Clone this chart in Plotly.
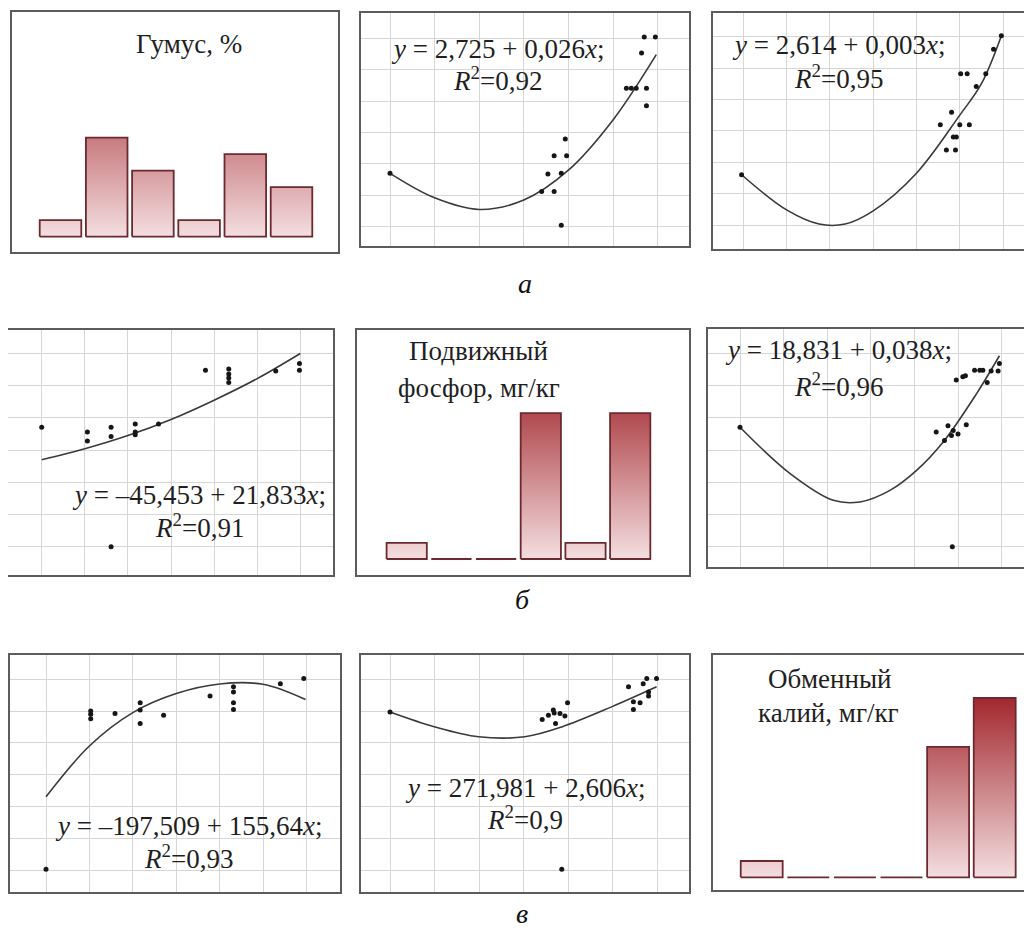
import plotly.graph_objects as go

# Window is 1032x933; the page body adds an 8 px margin, so the figure is 8 px smaller
# and every reference pixel position is shifted by that margin.
WIN_W, WIN_H = 1032, 933
OFF = 8
W, H = WIN_W - OFF, WIN_H - OFF

# ---------------- DATA ----------------
# Histogram counts (bar panels)
humus_counts = [1, 6, 4, 1, 5, 3]
phos_counts = [1, 0, 0, 9, 1, 9]
kali_counts = [1, 0, 0, 0, 8, 11]

# Scatter panels (grid units)
p2_x = [0, 3.40, 3.68, 3.54, 3.84, 3.68, 3.96, 3.93, 3.84, 5.30, 5.41, 5.52, 5.75, 5.75, 5.64, 5.70, 5.95]
p2_y = [1.70, 1.12, 1.12, 1.68, 1.70, 2.26, 2.26, 2.79, 0.05, 4.41, 4.41, 4.41, 4.41, 3.85, 5.53, 6.04, 6.04]
p2_fx = [0, 1, 2, 3, 4, 5, 5.97]
p2_fy = [1.70, 0.92, 0.55, 0.85, 1.80, 3.40, 5.48]

p3_x = [-0.04, 5.96, 5.78, 5.60, 5.38, 5.02, 5.17, 4.81, 4.55, 5.00, 5.22, 4.85, 4.92, 4.69, 4.90]
p3_y = [1.60, 6.03, 5.60, 4.82, 4.41, 4.82, 4.82, 3.59, 3.19, 3.19, 3.19, 2.80, 2.80, 2.39, 2.39]
p3_fx = [-0.04, 1.0, 1.75, 2.35, 3.0, 4.0, 5.0, 5.5, 5.96]
p3_fy = [1.60, 0.48, 0.03, 0.03, 0.45, 1.65, 3.50, 4.50, 6.03]

p4_x = [0, 1.06, 1.06, 1.61, 1.61, 2.17, 2.17, 2.17, 2.71, 3.80, 4.34, 4.34, 4.34, 4.34, 5.43, 5.98, 5.98, 1.61]
p4_y = [3.71, 3.56, 3.28, 3.71, 3.42, 3.81, 3.56, 3.48, 3.81, 5.48, 5.52, 5.36, 5.24, 5.10, 5.46, 5.69, 5.48, 0.0]
p4_fx = [0, 1, 2, 3, 4, 5, 6]
p4_fy = [2.70, 3.04, 3.45, 3.95, 4.55, 5.22, 6.00]

p6_x = [0, 4.50, 4.77, 4.89, 4.69, 5.00, 5.19, 4.85, 4.96, 5.11, 5.17, 5.38, 5.50, 5.57, 5.67, 5.76, 5.92, 5.95, 4.87]
p6_y = [3.71, 3.56, 3.76, 3.61, 3.30, 3.50, 3.79, 3.45, 5.18, 5.28, 5.31, 5.48, 5.48, 5.48, 5.10, 5.46, 5.46, 5.69, 0.0]
p6_fx = [0, 1.15, 2.14, 2.75, 3.44, 4.05, 4.66, 5.42, 5.95]
p6_fy = [3.71, 2.27, 1.44, 1.39, 1.75, 2.37, 3.25, 4.74, 5.93]

p7_x = [0, 1.03, 1.03, 1.03, 1.59, 2.17, 2.17, 2.17, 2.71, 3.78, 4.32, 4.32, 4.32, 4.32, 5.40, 5.94]
p7_y = [0.02, 5.00, 4.90, 4.76, 4.92, 5.26, 5.03, 4.61, 4.87, 5.47, 5.76, 5.60, 5.26, 5.05, 5.86, 6.02]
p7_fx = [0, 1, 2, 3, 4, 5, 5.98]
p7_fy = [2.30, 3.90, 4.95, 5.55, 5.85, 5.84, 5.36]

p8_x = [0, 3.42, 3.56, 3.67, 3.69, 3.82, 3.93, 3.72, 3.99, 5.36, 5.69, 5.77, 5.99, 5.81, 5.81, 5.47, 5.62, 5.47, 3.86]
p8_y = [4.97, 4.73, 4.87, 5.03, 4.94, 4.92, 4.84, 4.61, 5.26, 5.76, 5.86, 6.02, 6.02, 5.60, 5.47, 5.29, 5.26, 5.05, 0.02]
p8_fx = [0, 1.01, 1.99, 3.03, 3.86, 4.98, 5.99]
p8_fy = [4.97, 4.50, 4.19, 4.19, 4.50, 5.13, 5.76]

humus_title = "Гумус, %"
phos_title = ["Подвижный", "фосфор, мг/кг"]
kali_title = ["Обменный", "калий, мг/кг"]

eq2 = ["<i>y</i> = 2,725 + 0,026<i>x</i>;", "<i>R</i><sup>2</sup>=0,92"]
eq3 = ["<i>y</i> = 2,614 + 0,003<i>x</i>;", "<i>R</i><sup>2</sup>=0,95"]
eq4 = ["<i>y</i> = –45,453 + 21,833<i>x</i>;", "<i>R</i><sup>2</sup>=0,91"]
eq6 = ["<i>y</i> = 18,831 + 0,038<i>x</i>;", "<i>R</i><sup>2</sup>=0,96"]
eq7 = ["<i>y</i> = –197,509 + 155,64<i>x</i>;", "<i>R</i><sup>2</sup>=0,93"]
eq8 = ["<i>y</i> = 271,981 + 2,606<i>x</i>;", "<i>R</i><sup>2</sup>=0,9"]

row_labels = ["а", "б", "в"]

# ---------------- STYLE / LAYOUT ----------------
FONT = "Liberation Serif"
FS = 27
BORDER = "#5c5c5c"
GRID = "#d6d6d6"
BAR_LINE = "#6b2a30"
GRAD = [[0, "rgb(244,222,224)"], [1, "rgb(158,32,38)"]]


def px2x(px):
    return min(1.0, max(0.0, (px - OFF) / W))


def px2y(py):
    return min(1.0, max(0.0, 1 - (py - OFF) / H))


fig = go.Figure()
layout_axes = {}
annotations = []


def axis_names(n):
    return ("x" if n == 1 else f"x{n}"), ("y" if n == 1 else f"y{n}")


def set_axes(n, box, xr, yr, grid, right_border=True):
    x0, x1, y0, y1 = box
    xk = "xaxis" if n == 1 else f"xaxis{n}"
    yk = "yaxis" if n == 1 else f"yaxis{n}"
    xa, ya = axis_names(n)
    layout_axes[xk] = dict(domain=[px2x(x0), px2x(x1)], range=xr, anchor=ya,
                           tickvals=list(range(0, 7)) if grid else [],
                           showgrid=grid, gridcolor=GRID, gridwidth=1.3,
                           showticklabels=False, ticks="", zeroline=False,
                           showline=True, mirror=True, linecolor=BORDER, linewidth=2,
                           fixedrange=True)
    layout_axes[yk] = dict(domain=[px2y(y1), px2y(y0)], range=yr, anchor=xa,
                           tickvals=list(range(0, 7)) if grid else [],
                           showgrid=grid, gridcolor=GRID, gridwidth=1.3,
                           showticklabels=False, ticks="", zeroline=False,
                           showline=True, mirror=right_border, linecolor=BORDER, linewidth=2,
                           fixedrange=True)


def scatter_panel(n, box, gx0, gsx, gyb, gsy, xs, ys, fx, fy, right_border=True):
    x0, x1, y0, y1 = box
    xr = [(x0 - gx0) / gsx, (x1 - gx0) / gsx]
    yr = [(gyb - y1) / gsy, (gyb - y0) / gsy]
    set_axes(n, box, xr, yr, True, right_border)
    xa, ya = axis_names(n)
    fig.add_trace(go.Scatter(x=fx, y=fy, mode="lines", xaxis=xa, yaxis=ya,
                             line=dict(color="#3a3a3a", width=1.6, shape="spline", smoothing=1.0),
                             hoverinfo="skip", showlegend=False))
    fig.add_trace(go.Scatter(x=xs, y=ys, mode="markers", xaxis=xa, yaxis=ya,
                             marker=dict(size=5, color="#161616"), showlegend=False))


def bar_panel(n, box, c0, csp, base, unit, counts, right_border=True):
    x0, x1, y0, y1 = box
    xr = [(x0 - c0) / csp, (x1 - c0) / csp]
    yr = [(base - y1) / unit, (base - y0) / unit]
    set_axes(n, box, xr, yr, False, right_border)
    xa, ya = axis_names(n)
    w = 0.9
    for i, h in enumerate(counts):
        fig.add_trace(go.Scatter(
            x=[i - w / 2, i - w / 2, i + w / 2, i + w / 2, i - w / 2],
            y=[0, h, h, 0, 0], mode="lines", fill="toself",
            fillgradient=dict(type="vertical", colorscale=GRAD, start=0, stop=11.5),
            line=dict(color=BAR_LINE, width=1.8), xaxis=xa, yaxis=ya,
            hoverinfo="skip", showlegend=False))


def text(s, x, y, size=FS, color="#1f1f1f"):
    annotations.append(dict(text=s, x=px2x(x), y=px2y(y), xref="paper", yref="paper",
                            xanchor="center", yanchor="middle", showarrow=False,
                            font=dict(family=FONT, size=size, color=color)))


# Row 1
bar_panel(1, (12, 338, 12, 252), 60.5, 46.2, 236.7, 16.5, humus_counts)
scatter_panel(2, (361, 689, 13, 246), 390, 44.6, 226.7, 31.4, p2_x, p2_y, p2_fx, p2_fy)
scatter_panel(3, (713, 1032, 13, 249), 743.3, 43.3, 225, 31.4, p3_x, p3_y, p3_fx, p3_fy, right_border=False)
# Row 2
scatter_panel(4, (8, 333, 330, 575), 41.7, 43.1, 546.7, 32.2, p4_x, p4_y, p4_fx, p4_fy)
bar_panel(5, (357, 689, 330, 575), 406.7, 44.7, 559, 16.2, phos_counts)
scatter_panel(6, (708, 1032, 329, 567), 740, 43.6, 546.7, 32.2, p6_x, p6_y, p6_fx, p6_fy, right_border=False)
# Row 3
scatter_panel(7, (10, 340, 655, 892), 46, 43.4, 870, 31.8, p7_x, p7_y, p7_fx, p7_fy)
scatter_panel(8, (361, 689, 655, 892), 390, 44.5, 870, 31.8, p8_x, p8_y, p8_fx, p8_fy)
bar_panel(9, (713, 1032, 655, 890), 761.7, 46.6, 877.3, 16.3, kali_counts, right_border=False)

# Titles
text(humus_title, 189, 44)
text(phos_title[0], 478, 351)
text(phos_title[1], 479, 388)
text(kali_title[0], 830, 679)
text(kali_title[1], 828, 713)

# Equations
for eq, (cx, l1, l2) in [(eq2, (497, 49, 79)), (eq3, (838, 45, 77)), (eq4, (199, 495, 526)),
                         (eq6, (838, 350, 385)), (eq7, (188, 826, 857)), (eq8, (525, 788, 818))]:
    text(eq[0], cx, l1)
    text(eq[1], cx, l2)

# Row labels
for lab, (lx, ly) in zip(row_labels, [(525, 283), (522, 599), (522, 913)]):
    text(f"<i>{lab}</i>", lx, ly, size=28, color="#111111")

fig.update_layout(width=W, height=H, margin=dict(l=0, r=0, t=0, b=0),
                  paper_bgcolor="white", plot_bgcolor="white",
                  showlegend=False, annotations=annotations, **layout_axes)

fig.write_html("out.html")
